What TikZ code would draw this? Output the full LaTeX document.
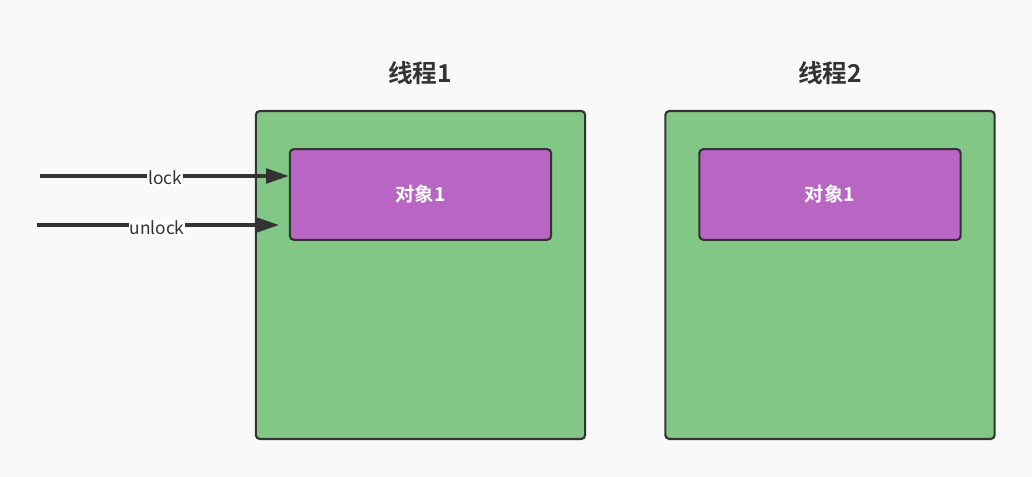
\documentclass[tikz,border=0pt]{standalone}
\usepackage{fontspec}
\usepackage{tikz}
\usetikzlibrary{arrows.meta,positioning}
\newfontfamily\cjk{Noto Sans CJK SC}
\newfontfamily\cjkbold{Noto Sans CJK SC Bold}

\definecolor{bgGray}{HTML}{F9F9F9}
\definecolor{threadGreen}{HTML}{82C785}
\definecolor{objPurple}{HTML}{B865C4}
\definecolor{edgeDark}{HTML}{333333}

\tikzset{
    thread/.style={draw=edgeDark, fill=threadGreen, line width=1.6pt,
        rounded corners=3pt, minimum width=247pt, minimum height=246pt,
        inner sep=0pt},
    object/.style={draw=edgeDark, fill=objPurple, line width=1.6pt,
        rounded corners=3pt, minimum width=196pt, minimum height=68pt,
        inner sep=0pt, text=white, font=\cjkbold\fontsize{14.5}{16}\selectfont},
    title/.style={text=edgeDark, font=\cjkbold\fontsize{18.5}{20}\selectfont},
    call/.style={draw=edgeDark, line width=2.3pt,
        -{Triangle[length=17pt,width=11pt]}},
    calllabel/.style={fill=white, text=edgeDark, inner sep=0.5pt,
        font=\cjk\fontsize{13}{15}\selectfont}
}

\begin{document}
\begin{tikzpicture}[x=0.75pt,y=-0.75pt]

        % canvas 1032 x 477
        \fill[bgGray] (0,0) rectangle (1032,477);
        \useasboundingbox (0,0) rectangle (1032,477);

        % threads
        \node[thread] (T1) at (420.5,275) {};
        \node[thread] (T2) at (830,275) {};

        \node[title] (T1title) at (420,73) {线程1};
        \node[title] (T2title) at (830,73) {线程2};

        % objects
        \node[object] (O1) at (420.5,194.5) {对象1};
        \node[object] (O2) at (830,194.5) {对象1};

        % calls
        \coordinate (lockStart) at (40,176);
        \coordinate (lockEnd) at (O1.west |- lockStart);
        \coordinate (unlockStart) at (37,225);
        \coordinate (unlockEnd) at (279,225);

        \draw[call] (lockStart) -- (lockEnd);
        \draw[call] (unlockStart) -- (unlockEnd);

        \node[calllabel] (lockLabel) at (165,178) {lock};
        \node[calllabel] (unlockLabel) at (157,228) {unlock};

    \end{tikzpicture}
\end{document}
